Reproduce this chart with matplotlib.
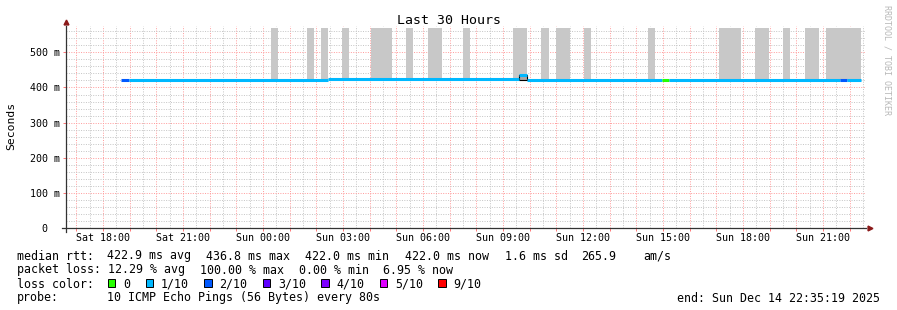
import matplotlib
matplotlib.use("Agg")
import matplotlib.pyplot as plt
from matplotlib.ticker import MultipleLocator, FuncFormatter
from matplotlib.patches import Rectangle

W, H = 897, 310
MONO = "DejaVu Sans Mono"

# time axis in hours counted from Sat 00:00 (Sun 00:00 = 24)
t_end = 46 + 35 / 60 + 19 / 3600          # Sun Dec 14 22:35:19
t_start = t_end - 30

# median rtt (seconds) as steps between edges, with loss level of each step
med_edges = [18.675, 18.975, 26.44, 33.60, 33.90, 38.96, 39.22, 45.64, 45.90, 46.42]
med_vals = [0.4220, 0.4220, 0.4245, 0.4368, 0.4220, 0.4220, 0.4220, 0.4220, 0.4220]
med_loss = [2, 1, 1, 1, 1, 0, 1, 2, 1]

# smoke (spread of single pings, clipped at the top of the graph)
smoke_start = [24.30, 25.65, 26.18, 26.96, 28.05, 29.36, 30.19, 31.50, 33.38,
               34.43, 34.99, 36.04, 38.44, 41.10, 42.45, 43.50, 44.33, 45.11]
smoke_end = [24.56, 25.91, 26.44, 27.22, 28.84, 29.63, 30.71, 31.76, 33.90,
             34.73, 35.51, 36.30, 38.70, 41.93, 42.98, 43.76, 44.85, 46.43]
smoke_low = 0.422
smoke_high = 0.570

# the one step where the median jumped up
spike_start, spike_end = 33.60, 33.90
spike_low, spike_high = 0.4220, 0.4368

loss_labels = ["0", "1/10", "2/10", "3/10", "4/10", "5/10", "9/10"]
loss_colors = ["#26ff00", "#00b8ff", "#0059ff", "#5e00ff", "#7e00ff", "#dd00ff", "#ff0000"]

rtt_stats = ["422.9 ms avg", "436.8 ms max", "422.0 ms min", "422.0 ms now",
             "1.6 ms sd", "265.9", "am/s"]
rtt_x = [107, 206, 305, 405, 505, 581, 643]
loss_stats = ["12.29 % avg", "100.00 % max", "0.00 % min", "6.95 % now"]
loss_x = [107.5, 200, 299, 383]

y_top = 0.575


def fx(x):
    return x / W


def fy(y):
    return 1 - y / H


fig = plt.figure(figsize=(W / 100, H / 100), dpi=100)
ax = fig.add_axes([fx(65.5), fy(228.3), 800 / W, 202.4 / H])
ax.set_xlim(t_start, t_end)
ax.set_ylim(0, y_top)
for s in ax.spines.values():
    s.set_visible(False)

# grid: red every hour / 100 m, grey every 30 min / 20 m
ax.xaxis.set_major_locator(MultipleLocator(1))
ax.xaxis.set_minor_locator(MultipleLocator(0.5))
ax.yaxis.set_major_locator(MultipleLocator(0.1))
ax.yaxis.set_minor_locator(MultipleLocator(0.02))
ax.grid(which="minor", color="#c4c4c4", linestyle=(0, (1, 1.5)), lw=0.7, zorder=0)
ax.grid(which="major", color="#ff9a9a", linestyle=(0, (1, 1.5)), lw=0.7, zorder=0.5)
ax.set_axisbelow(True)


def time_label(h, pos):
    h = int(round(h))
    if h % 3:
        return ""
    day = "Sat" if h < 24 else "Sun"
    return f"{day} {h % 24:02d}:00"


def sec_label(v, pos):
    ms = int(round(v * 1000))
    return "  0" if ms == 0 else f"{ms} m"


ax.xaxis.set_major_formatter(FuncFormatter(time_label))
ax.yaxis.set_major_formatter(FuncFormatter(sec_label))
ax.tick_params(axis="x", which="major", length=2, width=0.6, color="#ff6060",
               pad=1.7, labelsize=7.2)
ax.tick_params(axis="x", which="minor", length=0)
ax.tick_params(axis="y", which="major", length=2, width=0.6, color="#ff6060",
               pad=23.6, labelsize=7.2)
ax.tick_params(axis="y", which="minor", length=0)
for lab in ax.get_xticklabels() + ax.get_yticklabels():
    lab.set_fontfamily(MONO)
for lab in ax.get_yticklabels():
    lab.set_horizontalalignment("left")

# smoke
ax.bar(smoke_start, [smoke_high - smoke_low] * len(smoke_start),
       width=[e - s for s, e in zip(smoke_start, smoke_end)],
       bottom=smoke_low, align="edge", color="#c8c8c8", lw=0, zorder=1)
ax.bar(spike_start, spike_high - spike_low, width=spike_end - spike_start,
       bottom=spike_low, align="edge", color="#a8a8a8", edgecolor="black",
       lw=0.8, zorder=2)

# median rtt coloured by loss
for i, v in enumerate(med_vals):
    ax.plot([med_edges[i], med_edges[i + 1]], [v, v], color=loss_colors[med_loss[i]],
            lw=2.2, solid_capstyle="butt", zorder=3)

# axes with arrows
ax.plot([0, 0], [-0.02, 1.0], transform=ax.transAxes, color="#333333", lw=0.9,
        clip_on=False, zorder=4)
ax.plot([-0.004, 1.0], [0, 0], transform=ax.transAxes, color="#333333", lw=0.9,
        clip_on=False, zorder=4)
ax.plot([0], [1.018], marker="^", ms=3.5, color="#8b1a1a", transform=ax.transAxes,
        clip_on=False, zorder=5)
ax.plot([1.005], [0], marker=">", ms=3.5, color="#8b1a1a", transform=ax.transAxes,
        clip_on=False, zorder=5)

# titles
fig.text(0.5, fy(24), "Last 30 Hours", ha="center", va="baseline",
         family=MONO, fontsize=9.5)
fig.text(fx(11), fy(126), "Seconds", rotation=90, ha="center", va="center",
         family=MONO, fontsize=8.2)
fig.text(fx(887), fy(5), "RRDTOOL / TOBI OETIKER", rotation=270, ha="center",
         va="top", family=MONO, fontsize=6, color="#b8b8b8")

# legend rows
fs = 8.4
rows = [259.5, 273.5, 287.5, 301.5]
fig.text(fx(16.7), fy(rows[0]), "median rtt:", family=MONO, fontsize=fs, va="baseline")
for s, x in zip(rtt_stats, rtt_x):
    fig.text(fx(x), fy(rows[0]), s, family=MONO, fontsize=fs, va="baseline")
fig.text(fx(16.7), fy(rows[1]), "packet loss:", family=MONO, fontsize=fs, va="baseline")
for s, x in zip(loss_stats, loss_x):
    fig.text(fx(x), fy(rows[1]), s, family=MONO, fontsize=fs, va="baseline")
fig.text(fx(16.7), fy(rows[2]), "loss color:", family=MONO, fontsize=fs, va="baseline")
bx = 107.5
for lab, col in zip(loss_labels, loss_colors):
    fig.patches.append(Rectangle((fx(bx), fy(286.5)), 7.5 / W, 8 / H,
                                 transform=fig.transFigure, facecolor=col,
                                 edgecolor="black", lw=0.7))
    fig.text(fx(bx + 15.5), fy(rows[2]), lab, family=MONO, fontsize=fs, va="baseline")
    bx += 31.2 + 6.83 * len(lab)
fig.text(fx(16.7), fy(rows[3]), "probe:", family=MONO, fontsize=fs, va="baseline")
fig.text(fx(107), fy(rows[3]), "10 ICMP Echo Pings (56 Bytes) every 80s",
         family=MONO, fontsize=fs, va="baseline")
fig.text(fx(880), fy(rows[3]), "end: Sun Dec 14 22:35:19 2025", ha="right",
         family=MONO, fontsize=fs, va="baseline")

fig.savefig("out.png", dpi=100)
